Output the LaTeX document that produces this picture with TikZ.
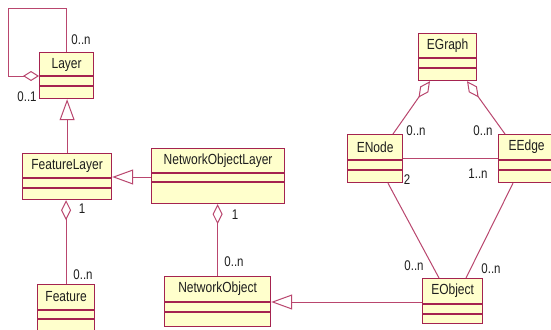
\documentclass[tikz,border=0pt]{standalone}
\usepackage{fontspec}
\setmainfont{Liberation Sans}
\usetikzlibrary{arrows.meta,calc}
\definecolor{boxborder}{RGB}{165,35,80}
\definecolor{conn}{RGB}{185,70,110}
\definecolor{boxfill}{RGB}{255,255,204}
\definecolor{txt}{RGB}{30,30,30}
\newcommand\tallText[1]{\scalebox{1}[1.22]{#1}}
\tikzset{
  clsbox/.style={draw=boxborder, fill=boxfill, line width=1.2pt, inner sep=0pt, anchor=north west},
  clstext/.style={text=txt, font=\fontsize{12}{14}\selectfont, inner sep=0pt},
  compline/.style={draw=boxborder, line width=1.2pt},
  mult/.style={text=txt, font=\fontsize{11.5}{13}\selectfont, inner sep=0pt},
  assoc/.style={draw=conn, line width=1pt},
  aggr/.style={assoc, -{Diamond[open,length=20pt,width=10pt,line width=1pt]}},
  inh/.style={assoc, -{Triangle[open,length=21pt,width=15pt,line width=1pt]}},
}
\newcommand\umlclass[8]{% name, x, y, w, h, c1, c2, label
  \node[clsbox, minimum width=#4pt, minimum height=#5pt] (#1) at (#2,#3) {};
  \draw[compline] ($(#1.north west)+(0,#6)$) -- ($(#1.north east)+(0,#6)$);
  \draw[compline] ($(#1.north west)+(0,#7)$) -- ($(#1.north east)+(0,#7)$);
  \node[clstext] (#1-name) at ($(#1.north)+(0,13)$) {\tallText{#8}};
}
\begin{document}
\begin{tikzpicture}[x=1pt,y=-1pt]
\useasboundingbox (0,0) rectangle (551,329);
\clip (0,0) rectangle (551,329);
\fill[white] (0,0) rectangle (551,329);

% classes
\umlclass{layer}{39}{52}{54}{46}{24}{34}{Layer}
\umlclass{featurelayer}{22}{153}{89}{46}{25}{35}{FeatureLayer}
\umlclass{feature}{37}{284}{57}{51}{26}{35}{Feature}
\umlclass{nol}{151}{148}{133}{55}{25}{34}{NetworkObjectLayer}
\umlclass{netobj}{164}{276}{106}{50}{26}{36}{NetworkObject}
\umlclass{egraph}{418}{33}{58}{47}{25}{35}{EGraph}
\umlclass{enode}{347}{134}{55}{48}{26}{36}{ENode}
\umlclass{eedge}{498}{134}{56}{48}{26}{36}{EEdge}
\umlclass{eobject}{422}{278}{60}{45}{26}{36}{EObject}

% connectors
\draw[assoc, -{Diamond[open,length=16pt,width=10pt,line width=1pt]}]
  (layer.north) -- ++(0,-43) -- ++(-58,0) -- ++(0,67) -- ($(layer.north west)+(0,24)$);
\draw[inh] (featurelayer.north) -- (featurelayer.north |- layer.south);
\draw[inh] (nol.west |- 0,177) -- (featurelayer.east |- 0,177);
\draw[aggr] (feature.north) -- (feature.north |- featurelayer.south);
\draw[aggr] (netobj.north) -- (netobj.north |- nol.south);
\draw[inh] (eobject.west |- 0,302) -- (netobj.east |- 0,302);
\draw[aggr] ($(enode.north west)+(46,0)$) -- ($(egraph.south west)+(12,0)$);
\draw[aggr] ($(eedge.north west)+(7,0)$) -- ($(egraph.south west)+(49,0)$);
\draw[assoc] (enode.east) -- (eedge.west);
\draw[assoc] ($(enode.south west)+(41,0)$) -- ($(eobject.north west)+(17,0)$);
\draw[assoc] ($(eedge.south west)+(15,0)$) -- ($(eobject.north west)+(44,0)$);

% multiplicities
\node[mult] (m1) at (81,40) {\tallText{0..n}};
\node[mult] (m2) at (27,97) {\tallText{0..1}};
\node[mult] (m3) at (82,209) {\tallText{1}};
\node[mult] (m4) at (83,275) {\tallText{0..n}};
\node[mult] (m5) at (235,215) {\tallText{1}};
\node[mult] (m6) at (234,262) {\tallText{0..n}};
\node[mult] (m7) at (416,131) {\tallText{0..n}};
\node[mult] (m8) at (483,131) {\tallText{0..n}};
\node[mult] (m9) at (407,180) {\tallText{2}};
\node[mult] (m10) at (478,174) {\tallText{1..n}};
\node[mult] (m11) at (414,266) {\tallText{0..n}};
\node[mult] (m12) at (491,269) {\tallText{0..n}};
\end{tikzpicture}
\end{document}
